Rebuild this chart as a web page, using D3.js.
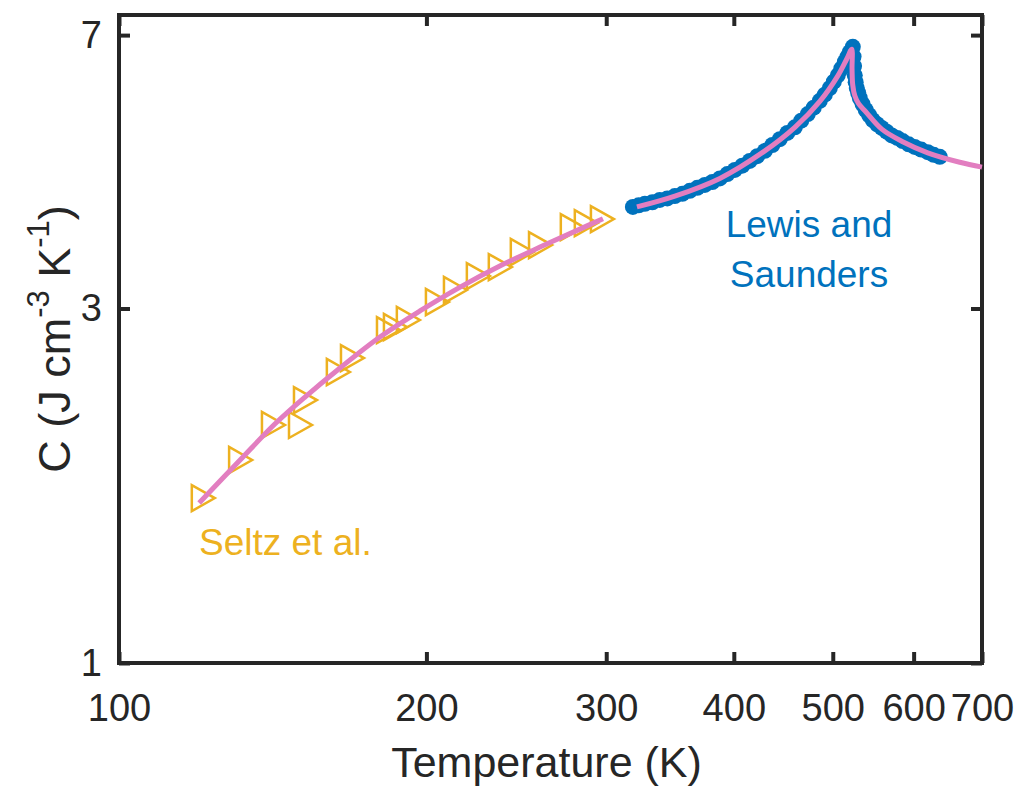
<html>
	<script src='https://d3js.org/d3.v7.min.js'></script>
	<body style="margin:0; background:white;">
		<svg width=1020 height=791></svg>
	</body>

	<script>
		// ------------------------data------------------------ //
		// Seltz et al. (triangles)
		const seltzT = [120.8, 131.4, 141.5, 150.4, 152.1, 163.8, 169.1, 183.4, 186.3, 191.8, 204.8, 213.3, 224.6, 236.0, 248.0, 258.4, 277.6, 286.5, 297.1];
		const seltzC = [1.667, 1.876, 2.091, 2.091, 2.259, 2.464, 2.573, 2.806, 2.833, 2.895, 3.061, 3.177, 3.317, 3.411, 3.574, 3.652, 3.861, 3.909, 3.958];

		// Lewis and Saunders (circles)
		const lewisT = [318.6, 322.8, 327.3, 332.9, 338.5, 344.3, 350.2, 356.2, 362.2, 368.4, 374.7, 381.1, 387.6, 394.2, 400.9, 407.7, 414.6, 421.7, 429.0, 436.3, 443.7, 451.3, 459.0, 465.7, 472.6, 479.0, 485.6, 491.1, 496.7, 501.2, 505.7, 509.7, 513.7, 516.6, 519.5, 523.1,
			524.0, 524.6, 525.4, 526.5, 527.8, 529.5, 531.4, 534.8, 538.6, 542.8, 547.2, 552.6, 558.4, 564.6, 571.1, 578.2, 585.4, 593.3, 601.4, 610.3, 619.4, 627.8, 636.4];
		const lewisC = [4.11, 4.13, 4.15, 4.17, 4.20, 4.22, 4.25, 4.28, 4.32, 4.36, 4.40, 4.44, 4.49, 4.55, 4.61, 4.67, 4.74, 4.81, 4.89, 4.98, 5.07, 5.17, 5.26, 5.37, 5.48, 5.59, 5.71, 5.82, 5.94, 6.06, 6.18, 6.31, 6.44, 6.54, 6.64, 6.75,
			6.55, 6.36, 6.18, 6.05, 5.94, 5.85, 5.76, 5.65, 5.55, 5.46, 5.38, 5.31, 5.25, 5.19, 5.13, 5.09, 5.04, 4.99, 4.95, 4.91, 4.87, 4.83, 4.80];

		// fitted curves (pink)
		const fitLowT = [119.8, 131.4, 142.1, 152.1, 164.6, 180.1, 197.1, 215.8, 236.0, 258.4, 282.7, 297.8];
		const fitLowC = [1.642, 1.876, 2.097, 2.280, 2.495, 2.746, 2.977, 3.206, 3.422, 3.629, 3.837, 3.963];
		const fitHighT = [321.5, 350.2, 387.6, 429.0, 459.0, 485.6, 505.7, 516.0, 521.8, 522.2, 523.0, 525.5, 530.0, 538.6, 558.4, 585.4, 619.4, 665.7, 700.0];
		const fitHighC = [4.11, 4.25, 4.49, 4.89, 5.26, 5.70, 6.17, 6.50, 6.70, 6.30, 6.00, 5.80, 5.66, 5.52, 5.23, 5.03, 4.86, 4.72, 4.65];

		const xTicks = [100, 200, 300, 400, 500, 600, 700];
		const yTicks = [1, 3, 7];

		// ------------------------setup------------------------ //
		const svg = d3.select("svg");
		const mLeft = 119, mRight = 982, mTop = 15, mBottom = 663;
		const ink = "#262626";
		const font = "'Liberation Sans', Arial, Helvetica, sans-serif";

		const x = d3.scaleLog().domain([100, 700]).range([mLeft, mRight]);
		const y = d3.scaleLog().domain([1, 7.45]).range([mBottom, mTop]);

		const zip = (a, b) => a.map((v, i) => [v, b[i]]);
		const seltz = zip(seltzT, seltzC);
		const lewis = zip(lewisT, lewisC);
		const fitLow = zip(fitLowT, fitLowC);
		const fitHigh = zip(fitHighT, fitHighC);

		// ------------------------axes------------------------ //
		svg.append("g")
			.attr("transform", "translate(0," + mBottom + ")")
			.call(d3.axisBottom(x).tickValues(xTicks).tickFormat(d3.format("d"))
				.tickSizeInner(-11).tickSizeOuter(0).tickPadding(31));
		svg.append("g")
			.attr("transform", "translate(0," + mTop + ")")
			.call(d3.axisTop(x).tickValues(xTicks).tickFormat("")
				.tickSizeInner(-11).tickSizeOuter(0));
		svg.append("g")
			.attr("transform", "translate(" + mLeft + ",0)")
			.call(d3.axisLeft(y).tickValues(yTicks).tickFormat(d3.format("d"))
				.tickSizeInner(-11).tickSizeOuter(0).tickPadding(17));
		svg.append("g")
			.attr("transform", "translate(" + mRight + ",0)")
			.call(d3.axisRight(y).tickValues(yTicks).tickFormat("")
				.tickSizeInner(-11).tickSizeOuter(0));

		svg.selectAll(".domain").remove();
		svg.selectAll(".tick line").attr("stroke", ink).attr("stroke-width", 4);
		svg.selectAll(".tick text")
			.attr("fill", ink)
			.style("font-family", font)
			.style("font-size", "38px");

		// frame
		svg.append("rect")
			.attr("x", mLeft).attr("y", mTop)
			.attr("width", mRight - mLeft).attr("height", mBottom - mTop)
			.attr("fill", "none")
			.attr("stroke", ink)
			.attr("stroke-width", 4);

		// axis labels
		svg.append("text")
			.attr("x", (mLeft + mRight) / 2 - 4)
			.attr("y", 777)
			.attr("text-anchor", "middle")
			.attr("fill", ink)
			.style("font-family", font)
			.style("font-size", "43px")
			.text("Temperature (K)");

		const yl = svg.append("text")
			.attr("transform", "translate(70," + ((mTop + mBottom) / 2) + ") rotate(-90)")
			.attr("text-anchor", "middle")
			.attr("fill", ink)
			.style("font-family", font)
			.style("font-size", "45px");
		yl.append("tspan").text("C (J cm");
		yl.append("tspan").attr("dy", -21).style("font-size", "31px").text("-3");
		yl.append("tspan").attr("dy", 21).text(" K");
		yl.append("tspan").attr("dy", -21).style("font-size", "31px").text("-1");
		yl.append("tspan").attr("dy", 21).text(")");

		// ------------------------markers------------------------ //
		svg.append("g")
			.selectAll("path")
			.data(seltz)
			.enter()
			.append("path")
			.attr("transform", d => "translate(" + x(d[0]) + "," + y(d[1]) + ")")
			.attr("d", "M-11,-13L-11,13L12,0Z")
			.attr("fill", "none")
			.attr("stroke", "#EDB120")
			.attr("stroke-width", 2.5);

		svg.append("g")
			.selectAll("circle")
			.data(lewis)
			.enter()
			.append("circle")
			.attr("cx", d => x(d[0]))
			.attr("cy", d => y(d[1]))
			.attr("r", 8)
			.attr("fill", "#0072BD");

		// ------------------------fits------------------------ //
		const line = d3.line()
			.x(d => x(d[0]))
			.y(d => y(d[1]))
			.curve(d3.curveCatmullRom.alpha(0.5));

		[fitLow, fitHigh].forEach(f => {
			svg.append("path")
				.datum(f)
				.attr("d", line)
				.attr("fill", "none")
				.attr("stroke", "#E27EC0")
				.attr("stroke-width", 5)
				.attr("stroke-linejoin", "round");
		});

		// ------------------------annotations------------------------ //
		svg.append("text")
			.attr("x", 809).attr("y", 237)
			.attr("text-anchor", "middle")
			.attr("fill", "#0072BD")
			.style("font-family", font)
			.style("font-size", "37px")
			.text("Lewis and");
		svg.append("text")
			.attr("x", 809).attr("y", 287)
			.attr("text-anchor", "middle")
			.attr("fill", "#0072BD")
			.style("font-family", font)
			.style("font-size", "37px")
			.text("Saunders");

		svg.append("text")
			.attr("x", 199).attr("y", 555)
			.attr("fill", "#EDB120")
			.style("font-family", font)
			.style("font-size", "37px")
			.text("Seltz et al.");
	</script>
</html>
